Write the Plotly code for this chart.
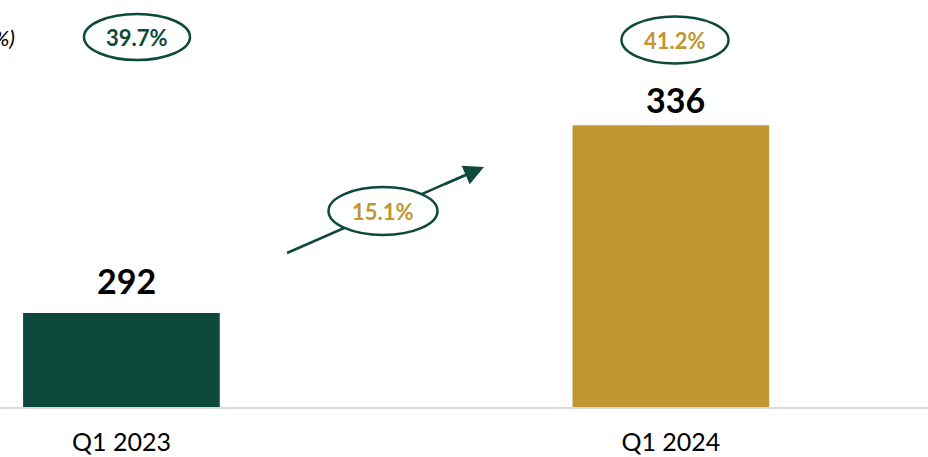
import plotly.graph_objects as go

# Quarterly values
quarters = ["Q1 2023", "Q1 2024"]
values = [292, 336]
bar_colors = ["#0D4A3B", "#C09632"]

# Margin bubbles above each bar, and the growth bubble on the arrow
margins = ["39.7%", "41.2%"]
margin_colors = ["#0D4A3B", "#C09632"]
growth = "15.1%"

GREEN = "#0D4A3B"
GOLD = "#C09632"
W, H = 928, 457
MB = 50
PH = H - MB  # plot-area height in pixels


def px(x):
    return x / W


def py(y):
    return 1 - y / PH


fig = go.Figure()
fig.add_trace(go.Bar(
    x=[0, 1], y=values, marker_color=bar_colors, width=0.358,
    marker_line_width=0, hoverinfo="skip",
))

shapes = []
annotations = []

# value labels above bars
label_lift = [10, 3]
for i, v in enumerate(values):
    annotations.append(dict(
        x=i, y=v, xref="x", yref="y", text=f"<b>{v}</b>", showarrow=False,
        xanchor="center", yanchor="bottom", yshift=label_lift[i], xshift=5,
        font=dict(family="Lato", size=34, color="black"),
    ))

# margin bubbles
bubbles = [(137, 37, 106, 46), (675, 40, 107, 47)]
for (cx, cy, bw, bh), txt, col in zip(bubbles, margins, margin_colors):
    shapes.append(dict(
        type="circle", xref="paper", yref="paper",
        x0=px(cx - bw / 2), x1=px(cx + bw / 2),
        y0=py(cy + bh / 2), y1=py(cy - bh / 2),
        line=dict(color=GREEN, width=2.5), fillcolor="white", layer="above",
    ))
    annotations.append(dict(
        x=px(cx), y=py(cy), xref="paper", yref="paper", text=f"<b>{txt}</b>",
        xanchor="center", yanchor="middle",
        showarrow=False, font=dict(family="Lato", size=22, color=col),
    ))

# growth arrow: shaft, bubble over it, then the head
tail = (287, 253)
tip = (484, 167)
shapes.append(dict(
    type="line", xref="paper", yref="paper",
    x0=px(tail[0]), y0=py(tail[1]), x1=px(tip[0] - 12), y1=py(tip[1] + 5.2),
    line=dict(color=GREEN, width=2.5), layer="above",
))
gx, gy, gw, gh = 383, 211, 109, 48
shapes.append(dict(
    type="circle", xref="paper", yref="paper",
    x0=px(gx - gw / 2), x1=px(gx + gw / 2),
    y0=py(gy + gh / 2), y1=py(gy - gh / 2),
    line=dict(color=GREEN, width=2.5), fillcolor="white", layer="above",
))
annotations.append(dict(
    x=px(gx), y=py(gy), xref="paper", yref="paper", text=f"<b>{growth}</b>",
    xanchor="center", yanchor="middle",
    showarrow=False, font=dict(family="Lato", size=22, color=GOLD),
))
annotations.append(dict(
    x=px(tip[0]), y=py(tip[1]), xref="paper", yref="paper", text="",
    showarrow=True, ax=-40, ay=17.5, arrowhead=2, arrowsize=1.6,
    arrowwidth=2.5, arrowcolor=GREEN, standoff=0,
))

# series title, partly off the left edge
annotations.append(dict(
    x=px(17), y=py(37), xref="paper", yref="paper", text="EBITDA Margin (%)",
    xanchor="right", yanchor="middle", showarrow=False,
    font=dict(family="Lato", size=22, color="black", style="italic"),
))

fig.update_layout(
    width=W, height=H,
    margin=dict(l=0, r=0, t=0, b=MB),
    paper_bgcolor="white", plot_bgcolor="white",
    showlegend=False,
    shapes=shapes, annotations=annotations,
    xaxis=dict(
        range=[-0.221, 1.468], tickvals=[0, 1], ticktext=quarters,
        showgrid=False, zeroline=False, showline=True,
        linecolor="#D9D9D9", linewidth=2, ticks="",
        ticklabelstandoff=12,
        tickfont=dict(family="Lato", size=25, color="black"),
    ),
    yaxis=dict(range=[270, 365.3], visible=False, showgrid=False),
)

fig.write_html("out.html")
